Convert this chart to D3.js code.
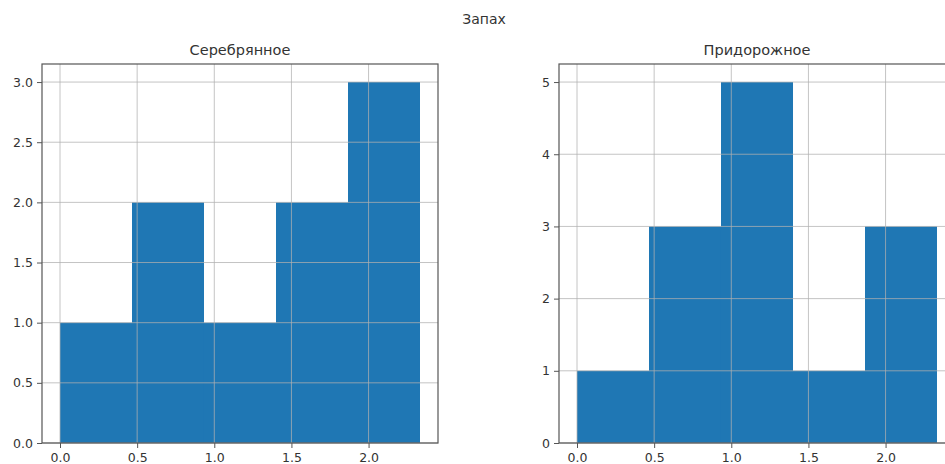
<!DOCTYPE html>
<html><head><meta charset="utf-8">
<script src="https://cdn.jsdelivr.net/npm/d3@7"></script>
<style>body{margin:0;background:#fff}svg{display:block;font-family:"DejaVu Sans",sans-serif}</style>
</head><body>
<svg id="c" width="945" height="464"></svg>
<script>
const suptitle = "Запах";
const titles = ["Серебрянное", "Придорожное"];
const binEdges = [0, 0.4667, 0.9333, 1.4, 1.8667, 2.3333];
const countsLeft = [1, 2, 1, 2, 3];
const countsRight = [1, 3, 5, 1, 3];
const xTicks = [0, 0.5, 1.0, 1.5, 2.0];
const yTicksLeft = [0, 0.5, 1.0, 1.5, 2.0, 2.5, 3.0];
const yTicksRight = [0, 1, 2, 3, 4, 5];

const svg = d3.select("#c");
const W = 396, plotTop = 64, plotBottom = 443;
svg.append("text").attr("x", 484).attr("y", 24).attr("text-anchor", "middle")
  .attr("font-size", 14).attr("fill", "#333").text(suptitle);

function panel(x0, title, counts, yTicks, yFmt) {
  const g = svg.append("g");
  const xmin = binEdges[0], xmax = binEdges[binEdges.length - 1];
  const pad = (xmax - xmin) * 0.05;
  const x = d3.scaleLinear().domain([xmin - pad, xmax + pad]).range([x0, x0 + W]);
  const ymax = d3.max(counts) * 1.05;
  const y = d3.scaleLinear().domain([0, ymax]).range([plotBottom, plotTop]);
  const bins = counts.map((c, i) => ({x0: binEdges[i], x1: binEdges[i + 1], c}));
  g.selectAll("rect.bar").data(bins).join("rect").attr("class", "bar")
    .attr("x", d => x(d.x0)).attr("width", d => x(d.x1) - x(d.x0))
    .attr("y", d => y(d.c)).attr("height", d => y(0) - y(d.c))
    .attr("fill", "#1f77b4");
  g.selectAll("line.gx").data(xTicks).join("line").attr("class", "gx")
    .attr("x1", d => x(d)).attr("x2", d => x(d)).attr("y1", plotTop).attr("y2", plotBottom)
    .attr("stroke", "#b0b0b0").attr("stroke-opacity", 0.75).attr("stroke-width", 1);
  g.selectAll("line.gy").data(yTicks).join("line").attr("class", "gy")
    .attr("y1", d => y(d)).attr("y2", d => y(d)).attr("x1", x0).attr("x2", x0 + W)
    .attr("stroke", "#b0b0b0").attr("stroke-opacity", 0.75).attr("stroke-width", 1);
  g.append("rect").attr("x", x0).attr("y", plotTop).attr("width", W).attr("height", plotBottom - plotTop)
    .attr("fill", "none").attr("stroke", "#555").attr("stroke-width", 1.2);
  const ax = g.append("g").attr("transform", `translate(0,${plotBottom})`)
    .call(d3.axisBottom(x).tickValues(xTicks).tickFormat(d3.format(".1f")).tickSize(5).tickPadding(5));
  const ay = g.append("g").attr("transform", `translate(${x0},0)`)
    .call(d3.axisLeft(y).tickValues(yTicks).tickFormat(yFmt).tickSize(5).tickPadding(4));
  [ax, ay].forEach(a => {
    a.select(".domain").remove();
    a.selectAll("line").attr("stroke", "#555");
    a.selectAll("text").attr("font-size", 12.5).attr("fill", "#333").attr("font-family", "DejaVu Sans");
  });
  g.append("text").attr("x", x0 + W / 2).attr("y", plotTop - 9).attr("text-anchor", "middle")
    .attr("font-size", 14.5).attr("fill", "#333").text(title);
}
panel(42, titles[0], countsLeft, yTicksLeft, d3.format(".1f"));
panel(559, titles[1], countsRight, yTicksRight, d3.format("d"));
</script>
</body></html>
